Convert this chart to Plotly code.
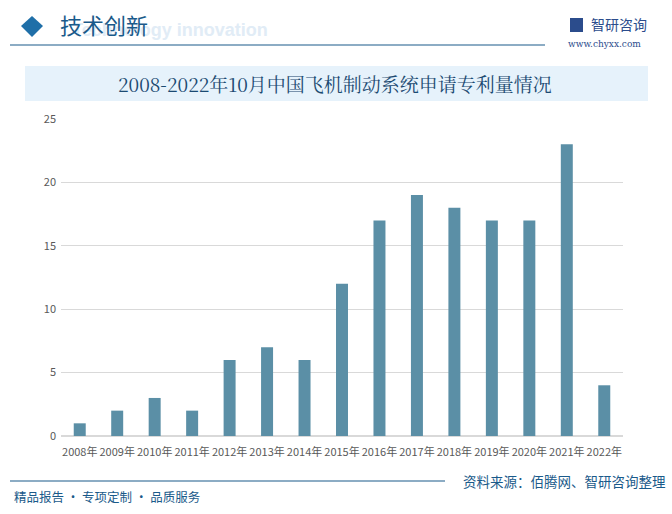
import plotly.graph_objects as go

years = ["2008年", "2009年", "2010年", "2011年", "2012年", "2013年", "2014年", "2015年",
         "2016年", "2017年", "2018年", "2019年", "2020年", "2021年", "2022年"]
patents = [1, 2, 3, 2, 6, 7, 6, 12, 17, 19, 18, 17, 17, 23, 4]
y_ticks = [0, 5, 10, 15, 20, 25]

title_text = "2008-2022年10月中国飞机制动系统申请专利量情况"
header_text = "技术创新"
header_bg_text = "Technology innovation"
source_text = "资料来源：佰腾网、智研咨询整理"
slogan_text = "精品报告 · 专项定制 · 品质服务"
brand_text = "智研咨询"
site_text = "www.chyxx.com"

W, H = 672, 514
fig = go.Figure()
fig.add_trace(go.Bar(x=years, y=patents, marker=dict(color="#5b8fa6", line=dict(width=0)),
                     width=0.32, hoverinfo="x+y"))

def px(x):
    return x / W

def py(y):
    return 1 - y / H

shapes = [
    dict(type="rect", xref="paper", yref="paper", x0=px(25), x1=px(648), y0=py(101), y1=py(66),
         fillcolor="#e6f2fb", line=dict(width=0), layer="below"),
    dict(type="line", xref="paper", yref="paper", x0=px(10), x1=px(545), y0=py(45), y1=py(45),
         line=dict(color="#1a5a8a", width=1.2)),
    dict(type="path", xref="paper", yref="paper",
         path=f"M {px(21)},{py(26)} L {px(32)},{py(16)} L {px(43)},{py(26)} L {px(32)},{py(37)} Z",
         fillcolor="#1f6fa8", line=dict(width=0)),
    dict(type="line", xref="paper", yref="paper", x0=px(10), x1=px(445), y0=py(481), y1=py(481),
         line=dict(color="#1a5a8a", width=1.2)),
    dict(type="rect", xref="paper", yref="paper", x0=px(570), x1=px(583), y0=py(32), y1=py(18),
         fillcolor="#2b4c8c", line=dict(width=0)),
]

def A(text, x, y, xanchor, size, color, family="Noto Sans CJK SC"):
    return dict(text=text, x=px(x), y=py(y), xref="paper", yref="paper",
                xanchor=xanchor, yanchor="middle", showarrow=False,
                font=dict(size=size, color=color, family=family))

ann = [
    A("<b>" + header_bg_text + "</b>", 70, 30, "left", 18, "#e1ecf6", "Arial, Liberation Sans"),
    A(header_text, 58, 24, "left", 22, "#1a5a8a"),
    A(title_text, 335, 84, "center", 19, "#1b4a72", "Noto Serif CJK SC, DejaVu Serif, Noto Sans CJK SC"),
    A(brand_text, 589, 24, "left", 14, "#2b4c8c"),
    A(site_text, 566, 44, "left", 9, "#2b4c8c", "DejaVu Serif"),
    A(source_text, 668, 481, "right", 13.5, "#1a5a8a"),
    A(slogan_text, 12, 496, "left", 12.5, "#1a5a8a"),
]

fig.update_layout(
    width=W, height=H,
    margin=dict(l=0, r=0, t=0, b=0),
    paper_bgcolor="white", plot_bgcolor="white",
    showlegend=False,
    shapes=shapes, annotations=ann,
    font=dict(family="Noto Sans CJK SC", color="#595959"),
    xaxis=dict(domain=[px(61), px(623)], tickfont=dict(size=11, color="#595959"),
               showgrid=False, showline=False, ticks="", tickangle=0, automargin=False,
               ticklabelstandoff=8),
    yaxis=dict(domain=[py(436), py(119)], range=[0, 25], tickvals=y_ticks,
               tickfont=dict(size=11, color="#595959"),
               gridcolor="#d9d9d9", gridwidth=1, zeroline=True, zerolinecolor="#d9d9d9",
               showline=False, ticks="", ticklen=0, automargin=False, ticklabelstandoff=4),
)

fig.write_html("out.html", config={"displayModeBar": False},
               post_script="document.body.style.margin='0';")
